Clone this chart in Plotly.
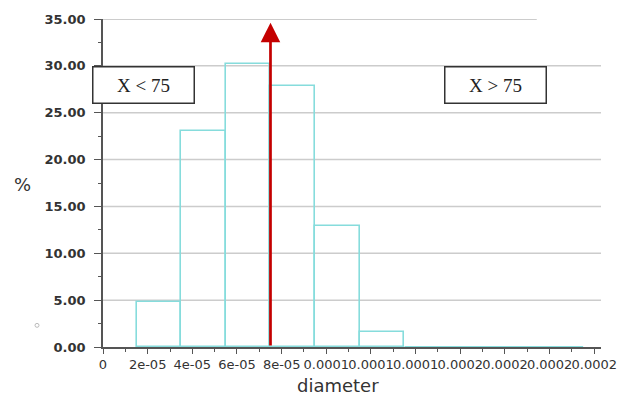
import plotly.graph_objects as go

# ---- data ----
bin_centers = [2.5e-05, 4.5e-05, 6.5e-05, 8.5e-05, 1.05e-04, 1.25e-04,
               1.45e-04, 1.65e-04, 1.85e-04, 2.05e-04]
percent = [4.8, 23.1, 30.2, 27.8, 12.9, 1.6, 0.0, 0.0, 0.0, 0.0]
bin_width = 2e-05
threshold = 7.5e-05
arrow_top = 34.6
x_tickvals = [0, 2e-05, 4e-05, 6e-05, 8e-05, 1e-04, 1.2e-04, 1.4e-04,
              1.6e-04, 1.8e-04, 2e-04, 2.2e-04]
x_ticktext = ["0", "2e-05", "4e-05", "6e-05", "8e-05", "0.0001", "0.0001",
              "0.0001", "0.0002", "0.0002", "0.0002", "0.0002"]
y_tickvals = [0, 5, 10, 15, 20, 25, 30, 35]
y_ticktext = ["0.00", "5.00", "10.00", "15.00", "20.00", "25.00", "30.00", "35.00"]
label_left = "X &lt; 75"
label_right = "X &gt; 75"

CYAN = "#86dcdc"
RED = "#c40000"
GRID = "#cccccc"
AXIS = "#555555"

fig = go.Figure()

nz_x = [c for c, v in zip(bin_centers, percent) if v > 0]
nz_y = [v for v in percent if v > 0]
fig.add_trace(go.Bar(
    x=nz_x, y=nz_y, width=bin_width,
    marker=dict(color="rgba(255,255,255,0)", line=dict(color=CYAN, width=1.6)),
    showlegend=False, hoverinfo="skip",
))

shapes = []
# gridlines (below traces)
for v in y_tickvals[1:-1]:
    shapes.append(dict(type="line", xref="paper", yref="y", x0=0, x1=1, y0=v, y1=v,
                       line=dict(color=GRID, width=1.5), layer="below"))
# top line
shapes.append(dict(type="line", xref="paper", yref="y", x0=-0.016, x1=0.871,
                   y0=y_tickvals[-1], y1=y_tickvals[-1],
                   line=dict(color="#bbbbbb", width=1.5), layer="below"))
# zero-height bins
zero_edges = [c + s * bin_width / 2 for c, v in zip(bin_centers, percent) if v == 0 for s in (-1, 1)]
shapes.append(dict(type="line", xref="x", yref="y", x0=min(zero_edges), x1=max(zero_edges),
                   y0=0, y1=0, line=dict(color=CYAN, width=2), layer="above"))
# small artifact circle
shapes.append(dict(type="circle", xref="paper", yref="paper", x0=-0.1365, x1=-0.1285,
                   y0=0.060, y1=0.072, line=dict(color="#bbbbbb", width=1)))

annotations = [
    dict(x=threshold, y=arrow_top, ax=threshold, ay=0, xref="x", yref="y",
         axref="x", ayref="y", text="", showarrow=True, arrowhead=2,
         arrowsize=1.45, arrowwidth=2.7, arrowcolor=RED),
    dict(x=0.0823, y=0.800, xref="paper", yref="paper", text=label_left,
         showarrow=False, xanchor="center", yanchor="middle",
         font=dict(family="Liberation Serif", size=19, color="#222222"),
         bordercolor="#333333", borderwidth=1.5, borderpad=1,
         bgcolor="white", width=98, height=33),
    dict(x=0.789, y=0.798, xref="paper", yref="paper", text=label_right,
         showarrow=False, xanchor="center", yanchor="middle",
         font=dict(family="Liberation Serif", size=19, color="#222222"),
         bordercolor="#333333", borderwidth=1.5, borderpad=1,
         bgcolor="white", width=98, height=33),
    dict(x=-0.161, y=0.494, xref="paper", yref="paper", text="%",
         showarrow=False, xanchor="center", yanchor="middle",
         font=dict(family="DejaVu Sans", size=18, color="#333333")),
    dict(x=0.472, y=-0.117, xref="paper", yref="paper", text="diameter",
         showarrow=False, xanchor="center", yanchor="middle",
         font=dict(family="DejaVu Sans", size=18, color="#333333")),
]

fig.update_layout(
    width=629, height=408,
    margin=dict(l=103, r=22, t=15, b=61),
    paper_bgcolor="white", plot_bgcolor="white",
    shapes=shapes, annotations=annotations,
    bargap=0,
    xaxis=dict(
        range=[0, 2.23e-04], tickvals=x_tickvals, ticktext=x_ticktext,
        tickangle=0, showgrid=False, zeroline=False,
        showline=True, linecolor=AXIS, linewidth=1.5,
        ticks="outside", ticklen=5, tickcolor=AXIS, tickwidth=1,
        minor=dict(dtick=1e-05, tick0=0, ticks="outside", ticklen=3,
                   tickcolor=AXIS, tickwidth=1, showgrid=False),
        tickfont=dict(family="DejaVu Sans", size=13, color="#333333"),
        layer="above traces", fixedrange=True,
    ),
    yaxis=dict(
        range=[0, 35], tickvals=y_tickvals, ticktext=y_ticktext,
        showgrid=False, zeroline=False,
        showline=True, linecolor=AXIS, linewidth=1.5,
        ticks="outside", ticklen=7, tickcolor=AXIS, tickwidth=1,
        minor=dict(dtick=2.5, tick0=0, ticks="outside", ticklen=3,
                   tickcolor=AXIS, tickwidth=1, showgrid=False),
        tickfont=dict(family="DejaVu Sans", size=13, color="#333333", weight="bold"),
        ticklabelstandoff=6, fixedrange=True,
    ),
)

fig.write_html("out.html")
